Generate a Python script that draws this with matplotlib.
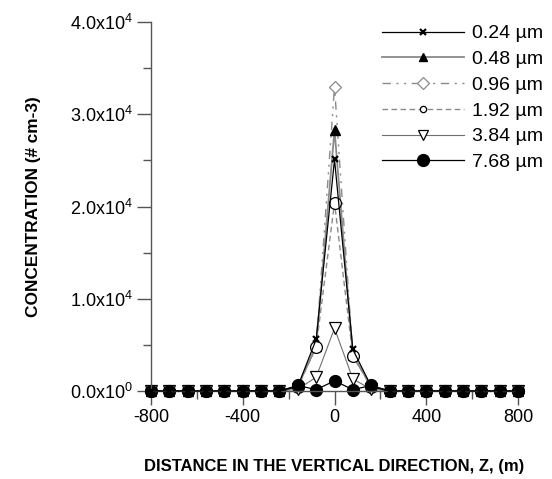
import matplotlib as mpl
mpl.use("Agg")
import matplotlib.pyplot as plt
from matplotlib.lines import Line2D
from matplotlib.ticker import MultipleLocator, FixedLocator, FuncFormatter
import numpy as np

mpl.rcParams.update({
    "font.family": "sans-serif",
    "font.sans-serif": ["Liberation Sans", "DejaVu Sans"],
    "mathtext.fontset": "custom",
    "mathtext.rm": "Liberation Sans",
    "axes.unicode_minus": False,
})

# vertical distance, m
z = np.arange(-800, 801, 80)

labels = ["0.24 µm", "0.48 µm", "0.96 µm", "1.92 µm", "3.84 µm", "7.68 µm"]

# non-zero values at z = -160, -80, 0, 80, 160
core_024 = [500, 5600, 25100, 4500, 500]
core_048 = [500, 4900, 28300, 3900, 500]
core_096 = [500, 4800, 33000, 3800, 500]
core_192 = [400, 4800, 20400, 3800, 400]
core_384 = [200, 1500, 6800, 1300, 200]
core_768 = [600, 150, 1100, 150, 600]


def full(core):
    y = np.zeros(len(z))
    i0 = list(z).index(-160)
    y[i0:i0 + 5] = core
    return y


series = [full(c) for c in (core_024, core_048, core_096, core_192, core_384, core_768)]

styles = [
    dict(color="black", lw=0.9, ls="-", marker="x", ms=5, mew=1.6, mfc="black", mec="black"),
    dict(color="#8a8a8a", lw=1.3, ls="-", marker="^", ms=6.5, mfc="black", mec="black"),
    dict(color="#8a8a8a", lw=1.0, ls=(0, (6, 4, 1.5, 4, 1.5, 4)), marker="D", ms=6, mfc="white", mec="#8a8a8a", mew=0.9),
    dict(color="#8a8a8a", lw=1.0, ls=(0, (4, 2.5)), marker="o", ms=8.5, mfc="white", mec="black", mew=0.9),
    dict(color="#707070", lw=0.8, ls="-", marker="v", ms=8.5, mfc="white", mec="black", mew=0.9),
    dict(color="black", lw=0.9, ls="-", marker="o", ms=8.5, mfc="black", mec="black"),
]
legend_ms = [5, 6, 6.5, 4.5, 7, 8.5]
zorders = [2.6, 2.1, 2.0, 2.2, 2.3, 2.4]

fig = plt.figure(figsize=(5.52, 4.79), dpi=100)
ax = fig.add_axes([0.2736, 0.1837, 0.6648, 0.7703])

handles = []
for y, st, lab, lms, zo in zip(series, styles, labels, legend_ms, zorders):
    ax.plot(z, y, label=lab, clip_on=False, zorder=zo, **st)
    hst = dict(st)
    hst["ms"] = lms
    handles.append(Line2D([], [], label=lab, **hst))

ax.set_xlim(-800, 800)
ax.set_ylim(0, 40000)
ax.xaxis.set_major_locator(FixedLocator([-800, -400, 0, 400, 800]))
ax.xaxis.set_minor_locator(FixedLocator([-600, -200, 200, 600]))
ax.yaxis.set_major_locator(MultipleLocator(10000))
ax.yaxis.set_minor_locator(MultipleLocator(5000))


def sci(v, pos):
    if abs(v) < 1e-9:
        return r"$\mathregular{0.0x10^{0}}$"
    if v < 0:
        return ""
    e = int(np.floor(np.log10(v)))
    return r"$\mathregular{%.1fx10^{%d}}$" % (v / 10 ** e, e)


ax.yaxis.set_major_formatter(FuncFormatter(sci))

for s in ("top", "right"):
    ax.spines[s].set_visible(False)
for s in ("left", "bottom"):
    ax.spines[s].set_color("#555555")
    ax.spines[s].set_linewidth(1.0)
ax.tick_params(which="major", length=10, width=1.0, color="#555555", labelsize=13, pad=3)
ax.tick_params(which="minor", length=6, width=1.0, color="#555555")

ax.set_xlabel("DISTANCE IN THE VERTICAL DIRECTION, Z, (m)", fontsize=12, fontweight="bold", labelpad=24)
ax.set_ylabel("CONCENTRATION (# cm-3)", fontsize=12.4, fontweight="bold", labelpad=21)

ax.legend(handles=handles, loc="upper right", bbox_to_anchor=(1.115, 1.04), frameon=False,
          fontsize=14, handlelength=4.2, handletextpad=0.4, labelspacing=0.42, numpoints=1)

fig.savefig("out.png", dpi=100)
